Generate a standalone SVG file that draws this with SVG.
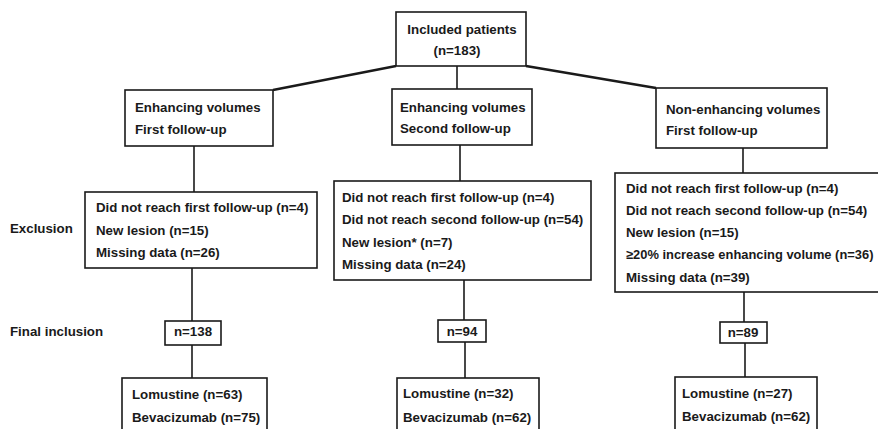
<svg xmlns="http://www.w3.org/2000/svg" width="878" height="429" viewBox="0 0 878 429">
<style>
.box{fill:#fff;stroke:#1a1a1a;stroke-width:1.6}
.t{font-family:"Liberation Sans",Arial,sans-serif;font-weight:bold;font-size:13.3px;fill:#1a1a1a}
.s{font-size:12.9px}
.c{fill:none;stroke:#1a1a1a;stroke-width:1.6}
.d{fill:none;stroke:#1a1a1a;stroke-width:2.6}
</style>
<rect width="878" height="429" fill="#fff"/>
<g id="connectors">
<line class="d" x1="396" y1="66" x2="273" y2="90"/>
<line class="c" x1="457" y1="66" x2="457" y2="89"/>
<line class="d" x1="526" y1="66" x2="656" y2="88"/>
<line class="c" x1="194" y1="146" x2="194" y2="192"/>
<line class="c" x1="460" y1="145" x2="460" y2="181"/>
<line class="c" x1="743" y1="148" x2="743" y2="173"/>
<line class="c" x1="192" y1="268" x2="192" y2="321"/>
<line class="c" x1="192" y1="345" x2="192" y2="378"/>
<line class="c" x1="464" y1="280" x2="464" y2="320"/>
<line class="c" x1="465" y1="342" x2="465" y2="378"/>
<line class="c" x1="744" y1="292" x2="744" y2="322"/>
<line class="c" x1="745" y1="343" x2="745" y2="377"/>
</g>
<g id="labels">
<text class="t" x="10" y="232.5">Exclusion</text>
<text class="t" x="10" y="335.5">Final inclusion</text>
</g>
<g id="included">
<rect class="box" x="396" y="12" width="130" height="54"/>
<text class="t" x="462" y="33.5" text-anchor="middle">Included patients</text>
<text class="t" x="457" y="54.5" text-anchor="middle">(n=183)</text>
</g>
<g id="enh-first">
<rect class="box" x="125" y="90" width="148" height="56"/>
<text class="t" x="135" y="111.5">Enhancing volumes</text>
<text class="t" x="135" y="133.5">First follow-up</text>
</g>
<g id="enh-second">
<rect class="box" x="392" y="89" width="140" height="56"/>
<text class="t" x="400" y="111.5">Enhancing volumes</text>
<text class="t" x="400" y="132.5">Second follow-up</text>
</g>
<g id="nonenh-first">
<rect class="box" x="656" y="88" width="171" height="60"/>
<text class="t" x="666" y="113.5">Non-enhancing volumes</text>
<text class="t" x="666" y="134.5">First follow-up</text>
</g>
<g id="excl-left">
<rect class="box" x="85" y="192" width="232" height="76"/>
<text class="t" x="96" y="211.5">Did not reach first follow-up (n=4)</text>
<text class="t" x="96" y="234.5">New lesion (n=15)</text>
<text class="t" x="96" y="256.5">Missing data (n=26)</text>
</g>
<g id="excl-mid">
<rect class="box" x="334" y="181" width="257" height="99"/>
<text class="t" x="342" y="201.5">Did not reach first follow-up (n=4)</text>
<text class="t" x="342" y="223.5">Did not reach second follow-up (n=54)</text>
<text class="t" x="342" y="246.5">New lesion* (n=7)</text>
<text class="t" x="342" y="268.5">Missing data (n=24)</text>
</g>
<g id="excl-right">
<rect class="box" x="615" y="173" width="270" height="119"/>
<text class="t" x="626" y="192.5">Did not reach first follow-up (n=4)</text>
<text class="t" x="626" y="214.5">Did not reach second follow-up (n=54)</text>
<text class="t" x="626" y="236.5">New lesion (n=15)</text>
<text class="t s" x="626" y="258.5">≥20% increase enhancing volume (n=36)</text>
<text class="t" x="626" y="281.5">Missing data (n=39)</text>
</g>
<g id="final-left">
<rect class="box" x="165" y="321" width="56" height="24"/>
<text class="t" x="193" y="335.5" text-anchor="middle">n=138</text>
</g>
<g id="final-mid">
<rect class="box" x="438" y="320" width="48" height="22"/>
<text class="t" x="462" y="335.5" text-anchor="middle">n=94</text>
</g>
<g id="final-right">
<rect class="box" x="720" y="322" width="47" height="21"/>
<text class="t" x="743" y="336.5" text-anchor="middle">n=89</text>
</g>
<g id="arms-left">
<rect class="box" x="122" y="378" width="145" height="60"/>
<text class="t" x="132" y="398.5">Lomustine (n=63)</text>
<text class="t" x="132" y="421.5">Bevacizumab (n=75)</text>
</g>
<g id="arms-mid">
<rect class="box" x="397" y="378" width="142" height="60"/>
<text class="t" x="403" y="397.5">Lomustine (n=32)</text>
<text class="t" x="403" y="421.5">Bevacizumab (n=62)</text>
</g>
<g id="arms-right">
<rect class="box" x="675" y="377" width="142" height="60"/>
<text class="t" x="682" y="397.5">Lomustine (n=27)</text>
<text class="t" x="682" y="420.5">Bevacizumab (n=62)</text>
</g>
</svg>
